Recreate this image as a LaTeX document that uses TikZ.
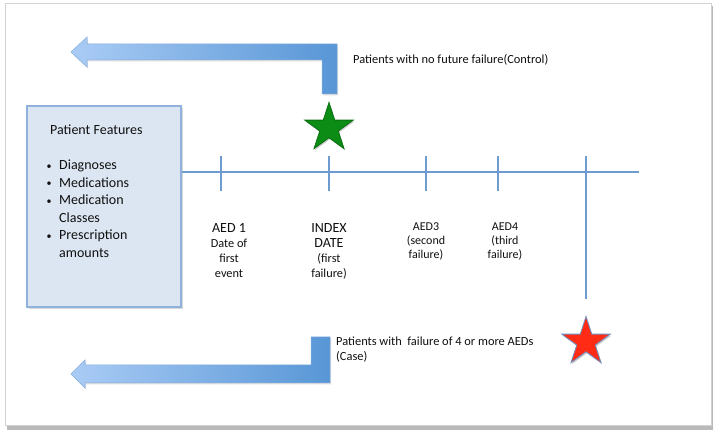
\documentclass[tikz,border=0pt]{standalone}
\usepackage{fontspec}
\setmainfont{Carlito}
\usetikzlibrary{shapes.geometric,shadows}
\definecolor{arrowL}{HTML}{AACCF5}
\definecolor{arrowR}{HTML}{5896D6}
\definecolor{arrowEdge}{HTML}{85AEDF}
\definecolor{boxFill}{HTML}{DCE6F2}
\definecolor{boxEdge}{HTML}{8FB1DB}
\definecolor{tlBlue}{HTML}{6E9BD0}
\definecolor{starGreen}{HTML}{0C8C14}
\definecolor{starRed}{HTML}{FF2B14}
\definecolor{starEdge}{HTML}{6F8FC2}
\definecolor{txt}{HTML}{101010}
\newcommand{\bul}{\makebox[13.5pt][l]{\hspace{1pt}\fontsize{10}{10}\selectfont\raisebox{0.6pt}{•}}}
\begin{document}
\begin{tikzpicture}[x=1pt,y=-1pt,
  panel/.style={fill=white, draw=gray!35, line width=0.8pt},
  panelshadow/.style={fill=gray!55},
  featbox/.style={rectangle, fill=boxFill, draw=boxEdge, line width=1.5pt,
    minimum width=154pt, minimum height=201pt, inner sep=0pt,
    drop shadow={opacity=0.3, shadow xshift=1.5pt, shadow yshift=-2pt}},
  feattext/.style={inner sep=0pt, text=txt, font=\fontsize{14}{17.5}\selectfont},
  tl/.style={draw=tlBlue, line width=2.2pt},
  tickmark/.style={draw=tlBlue, line width=1.8pt},
  lbl/.style={inner sep=0pt, text=txt, anchor=base, font=\fontsize{12.3}{15}\selectfont},
  lblsmall/.style={inner sep=0pt, text=txt, anchor=base, font=\fontsize{12}{14}\selectfont},
  note/.style={inner sep=0pt, text=txt, anchor=base west, font=\fontsize{12.4}{15}\selectfont},
  bigarrow/.style={left color=arrowL, right color=arrowR, draw=arrowEdge, line width=0.5pt,
    drop shadow={opacity=0.25, shadow xshift=1pt, shadow yshift=-1.5pt}},
  bigstar/.style={star, star points=5, star point ratio=2.618, minimum size=51pt,
    inner sep=0pt, line width=0.8pt,
    drop shadow={opacity=0.4, shadow xshift=1pt, shadow yshift=-1.5pt}}
]
\useasboundingbox (0,0) rectangle (713,430);
% panel
\fill[panelshadow] (7,6) rectangle (713,430);
\draw[panel] (5,3) rectangle (711,425);

% top arrow (control)
\path[bigarrow] (71,52) -- (87,37) -- (87,44) -- (337,44) -- (337,94) -- (322,94)
  -- (322,60) -- (87,60) -- (87,67) -- cycle;
% bottom arrow (case)
\path[bigarrow] (71,374) -- (85,360) -- (85,365) -- (311,365) -- (311,337) -- (330,337)
  -- (330,383) -- (85,383) -- (85,388) -- cycle;

% feature box
\node[featbox] (feat) at (104,206.5) {};
\node[feattext, anchor=base west] (feattxt) at (45.5,135) {%
  \begin{tabular}[t]{@{}l@{}}
  \hspace{4.5pt}Patient Features\\[17.5pt]
  \bul Diagnoses\\
  \bul Medications\\
  \bul Medication\\
  \hspace{13.5pt}Classes\\
  \bul Prescription\\
  \hspace{13.5pt}amounts
  \end{tabular}};

% timeline
\coordinate (tlend) at (639,172);
\draw[tl] (feat.east |- tlend) -- (tlend);
\coordinate (t1) at (221,172);
\coordinate (t2) at (329,172);
\coordinate (t3) at (426,172);
\coordinate (t4) at (498,172);
\coordinate (t5) at (586,172);
\foreach \t in {t1,t2,t3,t4}{
  \draw[tickmark] (\t) ++(0,-16) -- ++(0,35);
}
\draw[tickmark] (t5) ++(0,-16) -- ++(0,143);

% labels
\node[lbl] (l1) at (229,232.5) {\begin{tabular}[t]{@{}c@{}}
  {\fontsize{14}{15}\selectfont AED 1}\\ Date of\\ first\\ event\end{tabular}};
\node[lbl] (l2) at (329,233) {\begin{tabular}[t]{@{}c@{}}
  {\fontsize{14}{15.5}\selectfont INDEX}\\ {\fontsize{14}{15.5}\selectfont DATE}\\ (first\\ failure)\end{tabular}};
\node[lblsmall] (l3) at (426,230.5) {\begin{tabular}[t]{@{}c@{}}
  AED3\\ (second\\ failure)\end{tabular}};
\node[lblsmall] (l4) at (505,230.5) {\begin{tabular}[t]{@{}c@{}}
  AED4\\ (third\\ failure)\end{tabular}};

% stars
\node[bigstar, fill=starGreen, draw=starGreen!80!black] (gstar) at (329,128) {};
\node[bigstar, fill=starRed, draw=starEdge] (rstar) at (586,342) {};

% notes
\node[note] (ctrl) at (353,63.3) {Patients with no future failure(Control)};
\node[note] (casetxt) at (336,345.5) {\begin{tabular}[t]{@{}l@{}}
  Patients with~ failure of 4 or more AEDs\\ (Case)\end{tabular}};
\end{tikzpicture}
\end{document}
